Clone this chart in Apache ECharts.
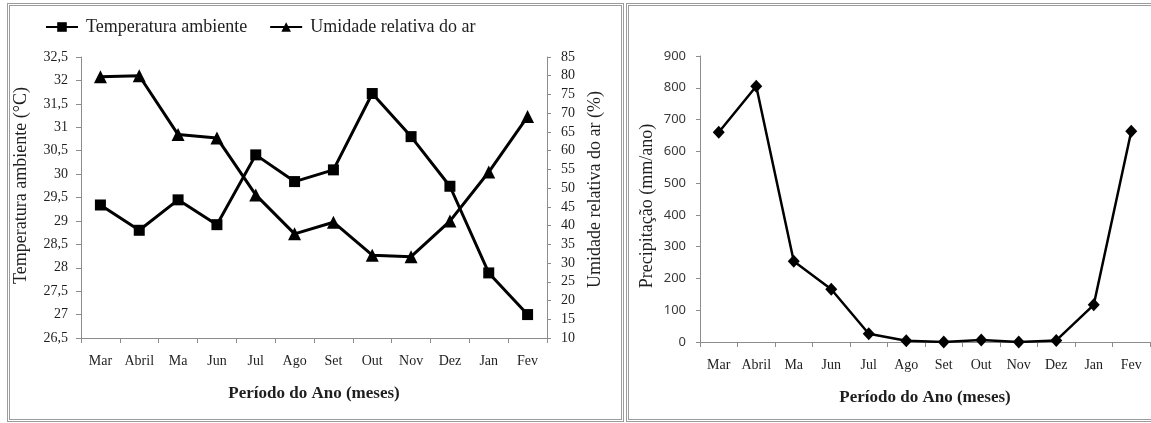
<!DOCTYPE html>
<html><head><meta charset="utf-8">
<script src="https://cdn.jsdelivr.net/npm/echarts@6/dist/echarts.min.js"></script>
<style>
html,body{margin:0;padding:0;background:#fff;overflow:hidden;}
#c{position:absolute;left:0;top:0;width:1151px;height:423px;}
.b{position:absolute;border:3px double #9c9c9c;box-sizing:border-box;pointer-events:none;}
</style></head><body>
<div id="c"></div>
<div class="b" style="left:7px;top:3px;width:617px;height:419px"></div>
<div class="b" style="left:626px;top:3px;width:540px;height:419px"></div>
<script>
const months = ['Mar','Abril','Ma','Jun','Jul','Ago','Set','Out','Nov','Dez','Jan','Fev'];
const temperatura = [29.34, 28.8, 29.45, 28.92, 30.41, 29.84, 30.09, 31.72, 30.8, 29.74, 27.89, 27.0];
const umidade = [79.7, 80.0, 64.3, 63.4, 48.2, 37.8, 40.9, 32.1, 31.7, 41.2, 54.3, 69.1];
const precipitacao = [660, 805, 254, 166, 26, 4, 0, 6, 0, 5, 117, 663];

const serif = 'Liberation Serif';
const axisGray = '#8c8c8c';
const txt = '#1e1e1e';

const chart = echarts.init(document.getElementById('c'), null, {renderer:'canvas'});
const catAxis = (gi, nameGap) => ({
  type:'category', gridIndex:gi, data:months, boundaryGap:true,
  axisLine:{show:true, lineStyle:{color:axisGray, width:1}},
  axisTick:{show:true, length:5, lineStyle:{color:axisGray}},
  axisLabel:{interval:0, fontFamily:serif, fontSize:14, color:txt, margin:16},
  splitLine:{show:false},
  name:'Período do Ano (meses)', nameLocation:'middle', nameGap:nameGap,
  nameTextStyle:{fontFamily:serif, fontWeight:'bold', fontSize:17, color:txt}
});
const valAxisBase = {
  type:'value',
  axisLine:{show:true, lineStyle:{color:axisGray, width:1}},
  axisTick:{show:true, length:5, lineStyle:{color:axisGray}},
  splitLine:{show:false},
  nameLocation:'middle', nameRotate:90
};
chart.setOption({
  animation:false,
  backgroundColor:'#fff',
  legend:{
    left:45, top:18, padding:0, itemWidth:32, itemHeight:12, itemGap:22,
    data:['Temperatura ambiente','Umidade relativa do ar'],
    textStyle:{fontFamily:serif, fontSize:18, color:txt, padding:[0,0,0,3]}
  },
  grid:[
    {left:81, right:604, top:57, bottom:85},
    {left:700, right:1, top:56, bottom:81}
  ],
  xAxis:[catAxis(0,47), catAxis(1,47)],
  yAxis:[
    Object.assign({}, valAxisBase, {
      gridIndex:0, position:'left', min:26.5, max:32.5, interval:0.5,
      axisLabel:{fontFamily:serif, fontSize:14, color:txt, margin:13,
        formatter:v => String(Math.round(v*10)/10).replace('.', ',')},
      name:'Temperatura ambiente (°C)', nameGap:51,
      nameTextStyle:{fontFamily:serif, fontSize:18, color:txt, padding:[0,0,0,24]}
    }),
    Object.assign({}, valAxisBase, {
      gridIndex:0, position:'right', min:10, max:85, interval:5,
      axisTick:{show:true, length:4, lineStyle:{color:axisGray}},
      axisLabel:{fontFamily:serif, fontSize:14, color:txt, margin:14},
      name:'Umidade relativa do ar (%)', nameGap:39,
      nameTextStyle:{fontFamily:serif, fontSize:18, color:txt, padding:[0,0,0,16]}
    }),
    Object.assign({}, valAxisBase, {
      gridIndex:1, position:'left', min:0, max:900, interval:100,
      axisTick:{show:true, length:4, lineStyle:{color:axisGray}},
      axisLabel:{fontFamily:'Noto Sans', fontSize:13, color:'#3a3a3a', margin:14},
      name:'Precipitação (mm/ano)', nameGap:44,
      nameTextStyle:{fontFamily:serif, fontSize:18, color:txt, padding:[0,14,0,0]}
    })
  ],
  series:[
    {type:'line', name:'Temperatura ambiente', xAxisIndex:0, yAxisIndex:0, data:temperatura,
     symbol:'rect', symbolSize:11, lineStyle:{color:'#000', width:3}, itemStyle:{color:'#000'}},
    {type:'line', name:'Umidade relativa do ar', xAxisIndex:0, yAxisIndex:1, data:umidade,
     symbol:'triangle', symbolSize:13, lineStyle:{color:'#000', width:3}, itemStyle:{color:'#000'}},
    {type:'line', name:'Precipitação', xAxisIndex:1, yAxisIndex:2, data:precipitacao,
     symbol:'diamond', symbolSize:[12,13], lineStyle:{color:'#000', width:2.5}, itemStyle:{color:'#000'}}
  ]
});
</script>
</body></html>
